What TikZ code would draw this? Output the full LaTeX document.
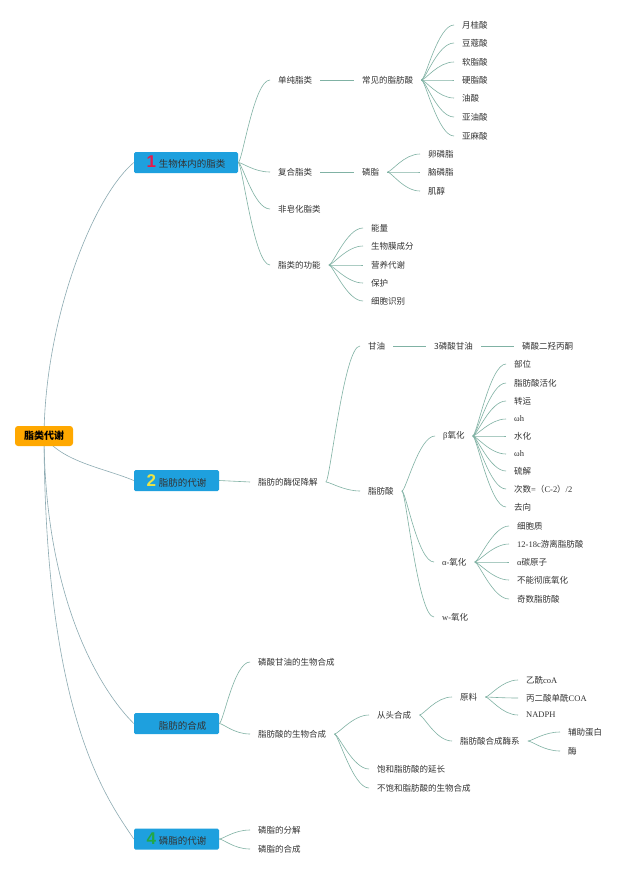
\documentclass[tikz,border=0pt]{standalone}
\usepackage{fontspec}
\setmainfont{Noto Sans CJK SC}
\newfontfamily\lat{Liberation Serif}
\newfontfamily\numf{Liberation Sans}
\usetikzlibrary{backgrounds}
\definecolor{boxc}{RGB}{30,160,222}
\definecolor{rootc}{RGB}{255,168,0}
\definecolor{txtc}{RGB}{51,51,51}
\definecolor{linec}{RGB}{128,178,164}
\definecolor{rlinec}{RGB}{140,170,178}
\definecolor{numred}{RGB}{230,25,75}
\definecolor{numyel}{RGB}{235,228,70}
\definecolor{numgrn}{RGB}{34,168,70}
\newcommand\fk[2]{\draw[con] (#1.east) .. controls +(4,0) and +(-16,0) .. (#2.west);}
\newcommand\sline[2]{\draw[con] (#1.east) -- (#2.west);}
\newcommand\bignum[2]{{\numf\bfseries\fontsize{17}{17}\selectfont\color{#1}#2}}
\begin{document}
\begin{tikzpicture}[x=1pt,y=-1pt,
  txt/.style={font=\fontsize{8.5}{10}\selectfont, text=txtc, inner xsep=8pt, inner ysep=2pt, anchor=west},
  con/.style={draw=linec, line width=0.6pt},
  rcon/.style={draw=rlinec, line width=0.6pt},
  box/.style={fill=boxc, rounded corners=1.5pt, minimum height=21pt, minimum width=85pt, text=txtc, font=\fontsize{9.5}{11}\selectfont, inner sep=0pt},
  rootbox/.style={fill=rootc, rounded corners=3pt, minimum height=20pt, minimum width=58pt, text=black, font=\fontsize{10}{12}\selectfont\bfseries, inner sep=0pt}
  ]
\useasboundingbox (0,0) rectangle (640,873);

% root and main boxes
\node[rootbox] (root) at (44,436) {脂类代谢};
\node[box, minimum width=104pt] (b1) at (186,162.5) {\bignum{numred}{1}\hspace{3pt}生物体内的脂类};
\node[box] (b2) at (176.5,480.5) {\bignum{numyel}{2}\hspace{3pt}脂肪的代谢};
\node[box] (b3) at (176.5,723.5) {\phantom{\bignum{numyel}{3}}\hspace{3pt}脂肪的合成};
\node[box] (b4) at (176.5,839) {\bignum{numgrn}{4}\hspace{3pt}磷脂的代谢};

% branch 1
\node[txt] (s1) at (270,80) {单纯脂类};
\node[txt] (s2) at (270,172) {复合脂类};
\node[txt] (s3) at (270,209) {非皂化脂类};
\node[txt] (s4) at (270,265) {脂类的功能};
\node[txt] (s1a) at (354,80) {常见的脂肪酸};
\node[txt] (f1) at (454,25) {月桂酸};
\node[txt] (f2) at (454,43) {豆蔻酸};
\node[txt] (f3) at (454,62) {软脂酸};
\node[txt] (f4) at (454,80) {硬脂酸};
\node[txt] (f5) at (454,98) {油酸};
\node[txt] (f6) at (454,117) {亚油酸};
\node[txt] (f7) at (454,136) {亚麻酸};
\node[txt] (s2a) at (354,172) {磷脂};
\node[txt] (p1) at (420,154) {卵磷脂};
\node[txt] (p2) at (420,172) {脑磷脂};
\node[txt] (p3) at (420,191) {肌醇};
\node[txt] (g1) at (363,228) {能量};
\node[txt] (g2) at (363,246) {生物膜成分};
\node[txt] (g3) at (363,265) {营养代谢};
\node[txt] (g4) at (363,283) {保护};
\node[txt] (g5) at (363,301) {细胞识别};

% branch 2
\node[txt] (d1) at (250,482) {脂肪的酶促降解};
\node[txt] (d2) at (360,346) {甘油};
\node[txt] (d3) at (426,346) {3磷酸甘油};
\node[txt] (d4) at (514,346) {磷酸二羟丙酮};
\node[txt] (d5) at (360,491) {脂肪酸};
\node[txt] (e1) at (435,436) {{\lat β}氧化};
\node[txt] (e2) at (434,562) {{\lat α-}氧化};
\node[txt] (e3) at (434,617) {{\lat w-}氧化};
\node[txt] (h1) at (506,364) {部位};
\node[txt] (h2) at (506,383) {脂肪酸活化};
\node[txt] (h3) at (506,401) {转运};
\node[txt] (h4) at (506,419) {{\lat ωh}};
\node[txt] (h5) at (506,436) {水化};
\node[txt] (h6) at (506,454) {{\lat ωh}};
\node[txt] (h7) at (506,471) {硫解};
\node[txt] (h8) at (506,489) {次数{\lat =}（{\lat C-2}）{\lat /2}};
\node[txt] (h9) at (506,507) {去向};
\node[txt] (k1) at (509,526) {细胞质};
\node[txt] (k2) at (509,544) {{\lat 12-18c}游离脂肪酸};
\node[txt] (k3) at (509,562) {{\lat α}碳原子};
\node[txt] (k4) at (509,580) {不能彻底氧化};
\node[txt] (k5) at (509,599) {奇数脂肪酸};

% branch 3
\node[txt] (m1) at (250,662) {磷酸甘油的生物合成};
\node[txt] (m2) at (250,734) {脂肪酸的生物合成};
\node[txt] (m3) at (369,715) {从头合成};
\node[txt] (m4) at (369,769) {饱和脂肪酸的延长};
\node[txt] (m5) at (369,788) {不饱和脂肪酸的生物合成};
\node[txt] (m6) at (452,697) {原料};
\node[txt] (m7) at (452,741) {脂肪酸合成酶系};
\node[txt] (q1) at (518,680) {乙酰{\lat coA}};
\node[txt] (q2) at (518,698) {丙二酸单酰{\lat COA}};
\node[txt] (q3) at (518,715) {{\lat NADPH}};
\node[txt] (r1) at (560,732) {辅助蛋白};
\node[txt] (r2) at (560,751) {酶};

% branch 4
\node[txt] (t1) at (250,830) {磷脂的分解};
\node[txt] (t2) at (250,849) {磷脂的合成};

\begin{scope}[on background layer]
\fill[white] (0,0) rectangle (640,873);
% root connectors
\draw[rcon] (root.center) .. controls (45,320) and (92,198) .. (b1.west);
\draw[rcon] (root.center) .. controls (62,462) and (104,468) .. (b2.west);
\draw[rcon] (root.center) .. controls (45,600) and (100,690) .. (b3.west);
\draw[rcon] (root.center) .. controls (45,720) and (108,800) .. (b4.west);
\end{scope}

% branch 1 connectors
\fk{b1}{s1} \fk{b1}{s2} \fk{b1}{s3} \fk{b1}{s4}
\sline{s1}{s1a}
\fk{s1a}{f1} \fk{s1a}{f2} \fk{s1a}{f3} \fk{s1a}{f4} \fk{s1a}{f5} \fk{s1a}{f6} \fk{s1a}{f7}
\sline{s2}{s2a}
\fk{s2a}{p1} \fk{s2a}{p2} \fk{s2a}{p3}
\fk{s4}{g1} \fk{s4}{g2} \fk{s4}{g3} \fk{s4}{g4} \fk{s4}{g5}

% branch 2 connectors
\sline{b2}{d1}
\fk{d1}{d2} \fk{d1}{d5}
\sline{d2}{d3} \sline{d3}{d4}
\fk{d5}{e1} \fk{d5}{e2} \fk{d5}{e3}
\fk{e1}{h1} \fk{e1}{h2} \fk{e1}{h3} \fk{e1}{h4} \fk{e1}{h5} \fk{e1}{h6} \fk{e1}{h7} \fk{e1}{h8} \fk{e1}{h9}
\fk{e2}{k1} \fk{e2}{k2} \fk{e2}{k3} \fk{e2}{k4} \fk{e2}{k5}

% branch 3 connectors
\fk{b3}{m1} \fk{b3}{m2}
\fk{m2}{m3} \fk{m2}{m4} \fk{m2}{m5}
\fk{m3}{m6} \fk{m3}{m7}
\fk{m6}{q1} \fk{m6}{q2} \fk{m6}{q3}
\fk{m7}{r1} \fk{m7}{r2}

% branch 4 connectors
\fk{b4}{t1} \fk{b4}{t2}
\end{tikzpicture}
\end{document}
